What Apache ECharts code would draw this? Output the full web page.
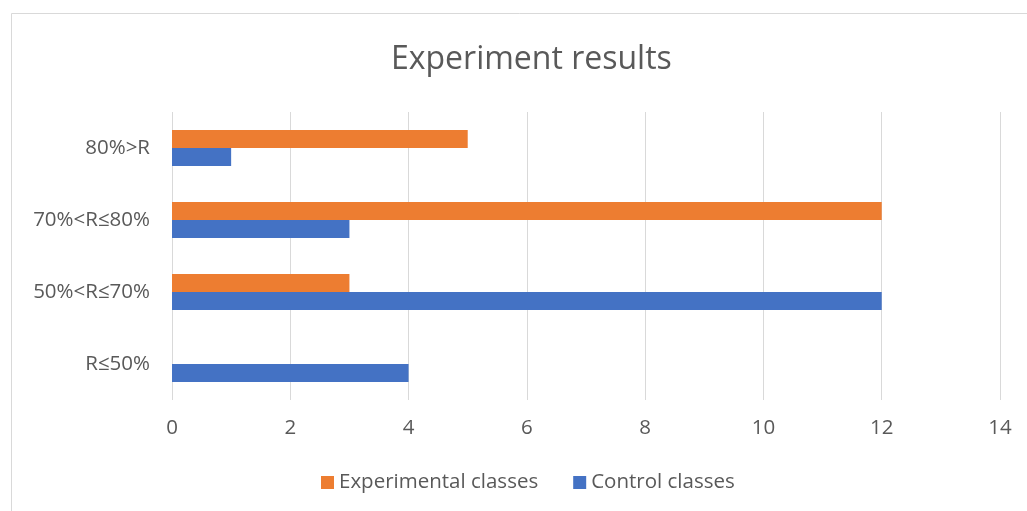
<!DOCTYPE html>
<html>
<head>
<meta charset="utf-8">
<script src="https://cdn.jsdelivr.net/npm/echarts@6/dist/echarts.min.js"></script>
<style>
  html, body { margin: 0; padding: 0; background: #fff; }
  #chart { width: 1027px; height: 511px; }
</style>
</head>
<body>
<div id="chart"></div>
<script>
// categories, bottom to top
const categories = ['R≤50%', '50%<R≤70%', '70%<R≤80%', '80%>R']
const controlValues = [4, 12, 3, 1]
const experimentalValues = [0, 3, 12, 5]
const xTicks = { min: 0, max: 14, interval: 2 }

const chart = echarts.init(document.getElementById('chart'))

const textColor = '#595959'
const fontFamily = '"Open Sans", "Noto Sans", sans-serif'

chart.setOption({
  backgroundColor: '#fff',
  animation: false,
  graphic: [
    {
      type: 'rect',
      shape: { x: 11.5, y: 13.5, width: 1030, height: 520 },
      style: { fill: 'none', stroke: '#d9d9d9', lineWidth: 1 },
      silent: true
    }
  ],
  title: {
    text: 'Experiment results',
    left: 386,
    top: 39,
    textStyle: { color: textColor, fontSize: 32, fontWeight: 'normal', fontFamily: fontFamily }
  },
  legend: {
    data: ['Experimental classes', 'Control classes'],
    bottom: 13,
    left: 316,
    itemWidth: 13,
    itemHeight: 13,
    itemGap: 35,
    icon: 'rect',
    textStyle: { color: textColor, fontSize: 20.5, fontFamily: fontFamily }
  },
  grid: {
    left: 172,
    right: 27,
    top: 112,
    bottom: 111,
    containLabel: false
  },
  xAxis: {
    type: 'value',
    min: xTicks.min,
    max: xTicks.max,
    interval: xTicks.interval,
    axisLine: { show: false },
    axisTick: { show: false },
    axisLabel: { color: textColor, fontSize: 20.5, margin: 18, fontFamily: fontFamily },
    splitLine: { lineStyle: { color: '#d9d9d9', width: 1 } }
  },
  yAxis: {
    type: 'category',
    data: categories,
    axisLine: { show: false },
    axisTick: { show: false },
    axisLabel: { color: textColor, fontSize: 20.5, margin: 22, fontFamily: fontFamily }
  },
  series: [
    {
      name: 'Experimental classes',
      type: 'bar',
      data: experimentalValues,
      barWidth: 18,
      barGap: '0%',
      itemStyle: { color: '#ED7D31' }
    },
    {
      name: 'Control classes',
      type: 'bar',
      data: controlValues,
      barWidth: 18,
      barGap: '0%',
      itemStyle: { color: '#4472C4' }
    }
  ]
})

window.addEventListener('resize', () => chart.resize())
</script>
</body>
</html>
